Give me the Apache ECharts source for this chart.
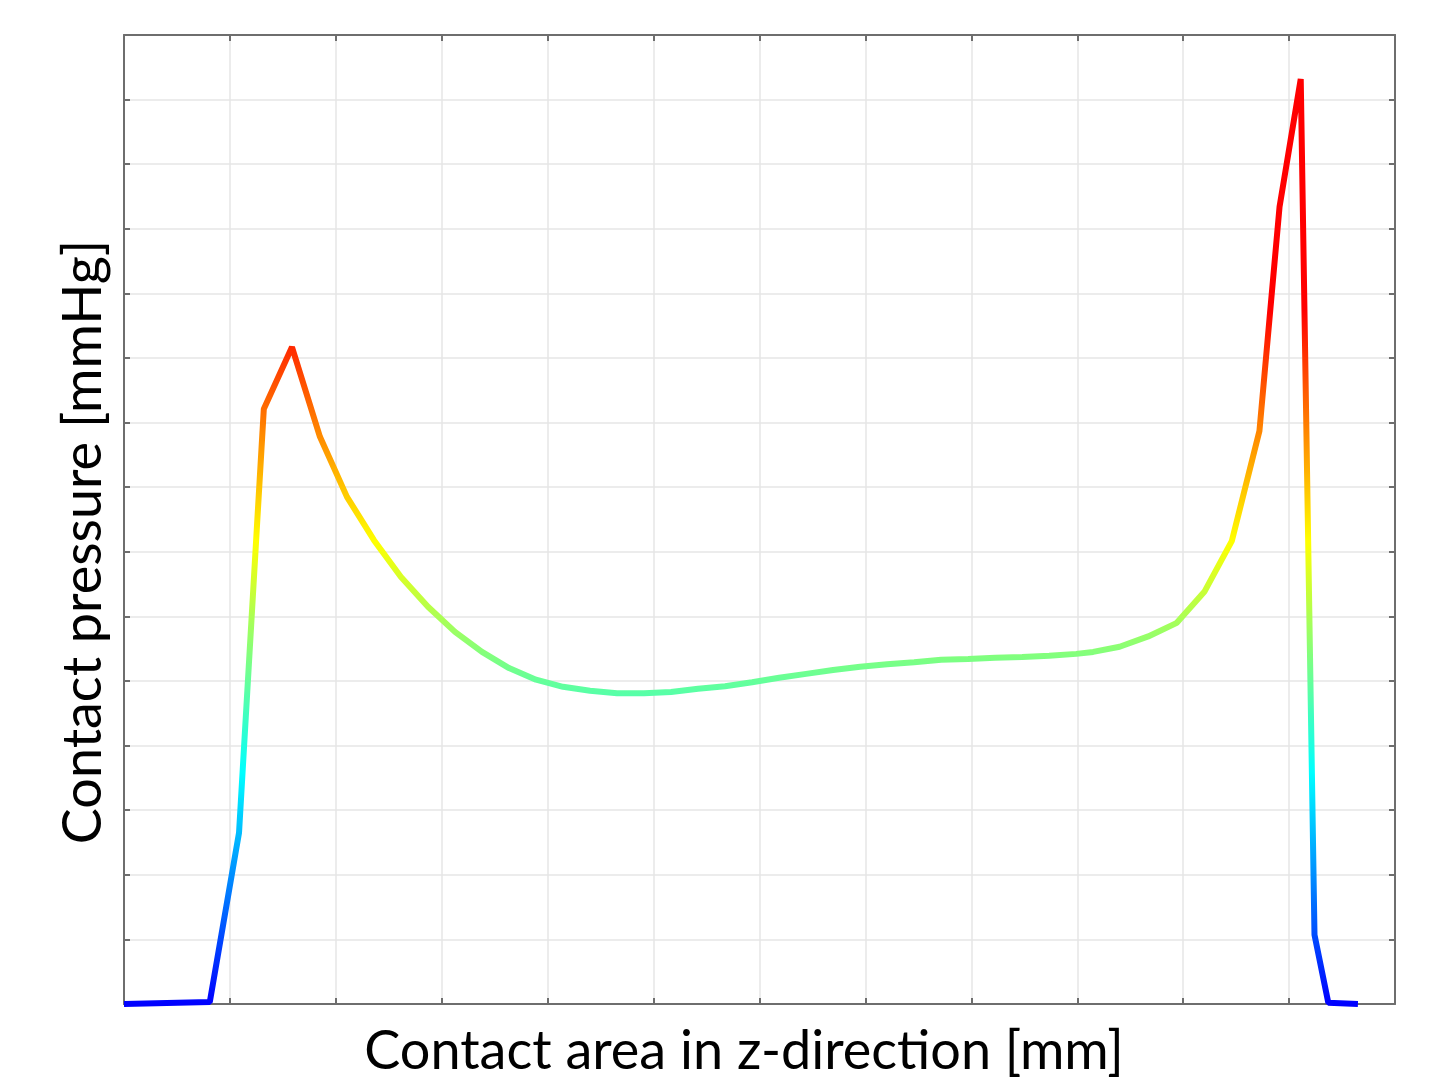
<!DOCTYPE html>
<html>
<head>
<meta charset="utf-8">
<script src="https://cdn.jsdelivr.net/npm/echarts@6/dist/echarts.min.js"></script>
<style>
html,body{margin:0;padding:0;background:#fff;}
#chart{width:1442px;height:1079px;}
</style>
</head>
<body>
<div id="chart"></div>
<script>
// z positions (grid units) and contact pressure (grid units)
var zPositions = [0, 0.81, 1.086, 1.32, 1.586, 1.85, 2.105, 2.36, 2.615, 2.87, 3.125, 3.38, 3.635, 3.89, 4.145, 4.40, 4.655, 4.91, 5.165, 5.42, 5.675, 5.93, 6.185, 6.44, 6.695, 6.95, 7.205, 7.46, 7.715, 7.97, 8.225, 8.48, 8.735, 8.99, 9.15, 9.40, 9.67, 9.94, 10.20, 10.46, 10.72, 10.91, 11.11, 11.24, 11.37, 11.65];
var pressures = [0, 0.03, 2.65, 9.21, 10.17, 8.78, 7.85, 7.18, 6.61, 6.15, 5.76, 5.45, 5.20, 5.02, 4.91, 4.85, 4.81, 4.81, 4.83, 4.88, 4.92, 4.98, 5.05, 5.11, 5.17, 5.22, 5.26, 5.29, 5.33, 5.34, 5.36, 5.37, 5.39, 5.42, 5.45, 5.53, 5.69, 5.90, 6.38, 7.17, 8.87, 12.34, 14.32, 1.07, 0.02, 0];
var xTitle = 'Contact area in z-direction [mm]';
var yTitle = 'Contact pressure [mmHg]';
var jetColors = ['#0000ff', '#00ffff', '#ffff00', '#ff0000', '#ff0000'];

var seriesData = zPositions.map(function (z, i) { return [z, pressures[i]]; });

var chart = echarts.init(document.getElementById('chart'), null, {renderer: 'canvas'});
var frameColor = '#6e6e6e';
var gridColor = '#e6e6e6';
var fontFam = 'Lato, "Open Sans", sans-serif';
function axisBase(pos, isX, showSplit) {
  return {
    type: 'value',
    position: pos,
    min: 0,
    max: isX ? 12 : 15,
    interval: 1,
    axisLine: {show: true, onZero: false, lineStyle: {color: frameColor, width: 2}},
    axisTick: {show: true, inside: true, length: 6, lineStyle: {color: frameColor, width: 2}},
    axisLabel: {show: false},
    splitLine: {show: showSplit, lineStyle: {color: gridColor, width: 1.5}}
  };
}

chart.setOption({
  backgroundColor: '#fff',
  animation: false,
  grid: {left: 124, right: 47, top: 35, bottom: 75, show: false},
  xAxis: [axisBase('bottom', true, true), axisBase('top', true, false)],
  yAxis: [axisBase('left', false, true), axisBase('right', false, false)],
  visualMap: {
    show: false,
    type: 'continuous',
    dimension: 1,
    seriesIndex: 0,
    min: 0,
    max: 14.32,
    inRange: {color: jetColors}
  },
  graphic: [
    {type: 'text', x: 744, y: 1052, z: 10,
     style: {text: xTitle, fontSize: 54, fontFamily: fontFam, fill: '#000', textAlign: 'center', textVerticalAlign: 'middle'}},
    {type: 'text', x: 84, y: 542, rotation: Math.PI / 2, z: 10,
     style: {text: yTitle, fontSize: 54, fontFamily: fontFam, fill: '#000', textAlign: 'center', textVerticalAlign: 'middle'}}
  ],
  series: [{
    type: 'line',
    xAxisIndex: 0,
    yAxisIndex: 0,
    data: seriesData,
    showSymbol: false,
    smooth: false,
    lineStyle: {width: 6}
  }]
});
</script>
</body>
</html>
